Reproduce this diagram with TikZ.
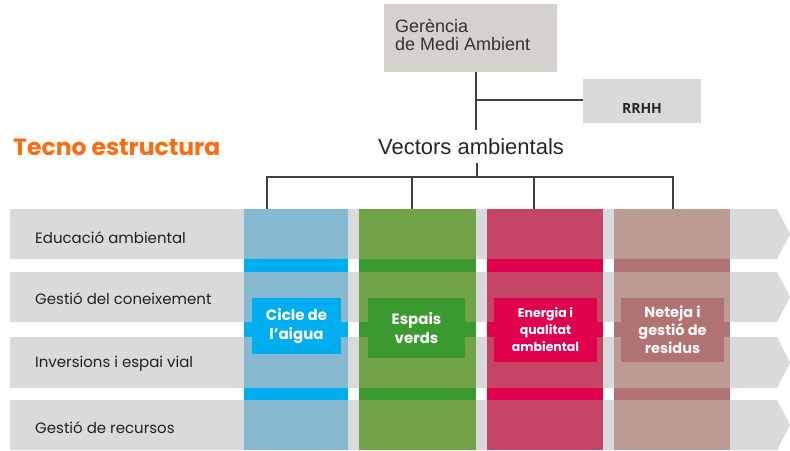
\documentclass[tikz,border=0pt]{standalone}
\usepackage{fontspec}
\setmainfont{Liberation Sans}
\newfontfamily\pop{Poppins}
\newfontfamily\osans{Open Sans}
\definecolor{rowgray}{HTML}{D9DADC}
\definecolor{bluelight}{HTML}{86BAD2}
\definecolor{bluedark}{HTML}{00AEEF}
\definecolor{greenlight}{HTML}{71A449}
\definecolor{greendark}{HTML}{3A9A30}
\definecolor{redlight}{HTML}{C64565}
\definecolor{reddark}{HTML}{E0004D}
\definecolor{brownlight}{HTML}{BC9B92}
\definecolor{browndark}{HTML}{B07272}
\definecolor{gerbox}{HTML}{D5D1CD}
\definecolor{rrhhbox}{HTML}{D9D9D9}
\definecolor{tecno}{HTML}{FF6B0F}
\definecolor{linegray}{HTML}{404040}
\definecolor{txtdark}{HTML}{231F20}
\tikzset{
  conn/.style={draw=linegray,line width=1.2pt},
  rowlabel/.style={anchor=base west,inner sep=0pt,text=txtdark,font=\pop\fontsize{15}{17}\selectfont},
  vlabel/.style={text=white,align=center,inner sep=0pt,font=\pop\bfseries\fontsize{15}{19}\selectfont},
}
\begin{document}
\begin{tikzpicture}[x=1pt,y=-1pt]
\useasboundingbox (0,0) rectangle (790,450);
% rows (chevrons)
\foreach \t/\b in {209/259,272/322,337/388,400/450}{
  \fill[rowgray] (10,\t) -- (777,\t) -- (790,{(\t+\b)/2}) -- (777,\b) -- (10,\b) -- cycle;
}
% columns
\foreach \xa/\xb/\cl/\cd in {244/348/bluelight/bluedark,359/476/greenlight/greendark,487/603/redlight/reddark,614/730/brownlight/browndark}{
  \fill[\cl] (\xa,209) rectangle (\xb,450);
  \fill[\cd] (\xa,259) rectangle (\xb,272);
  \fill[\cd] (\xa,322) rectangle (\xb,337);
  \fill[\cd] (\xa,388) rectangle (\xb,400);
}
% vector label boxes
\fill[bluedark] (252,298) rectangle (341,354);
\fill[greendark] (368,298) rectangle (465,358);
\fill[reddark] (494,298) rectangle (597,362);
\fill[browndark] (621,298) rectangle (724,362);
\node[vlabel] (v1) at (296.5,326) {Cicle de\\l’aigua};
\node[vlabel] (v2) at (416.5,328) {Espais\\verds};
\node[vlabel,font=\pop\bfseries\fontsize{12.5}{17}\selectfont] (v3) at (545.5,330) {Energia i\\qualitat\\ambiental};
\node[vlabel,font=\pop\bfseries\fontsize{14.5}{18}\selectfont,text=white!92!pink] (v4) at (672.5,330) {Neteja i\\gestió de\\residus};
% row labels
\node[rowlabel] (r1) at (35,243) {Educació ambiental};
\node[rowlabel] (r2) at (35,304) {Gestió del coneixement};
\node[rowlabel] (r3) at (35,367) {Inversions i espai vial};
\node[rowlabel] (r4) at (35,433) {Gestió de recursos};
% title
\node[anchor=base west,inner sep=0pt,text=tecno,font=\pop\bfseries\fontsize{23.5}{25}\selectfont] (tec) at (13,155) {Tecno estructura};
% top hierarchy
\node[fill=gerbox,minimum width=173pt,minimum height=68pt,inner sep=0pt] (g) at (470.5,38) {};
\node[anchor=base west,align=left,inner sep=0pt,text=black!80,font=\fontsize{18}{18}\selectfont] (gt) at (395,50) {Gerència\\de Medi Ambient};
\node[fill=rrhhbox,minimum width=118pt,minimum height=44pt,inner sep=0pt] (rr) at (642,101) {};
\node[anchor=base,inner sep=0pt,text=black!85,font=\osans\bfseries\fontsize{14}{16}\selectfont] (rrt) at (642,113) {RRHH};
\node[anchor=base,inner sep=0pt,text=black!85,font=\fontsize{22}{24}\selectfont] (vec) at (471,154) {Vectors ambientals};
\coordinate (j0) at (476,72);
\coordinate (j1) at (476,100);
\coordinate (j2) at (476,130);
\coordinate (k0) at (477,163);
\coordinate (k1) at (477,177);
\coordinate (c1) at (267,209);
\coordinate (c2) at (412,209);
\coordinate (c3) at (534,209);
\coordinate (c4) at (673,209);
\draw[conn] (j0) -- (j2);
\draw[conn] (j1) -- (rr.west |- j1);
\draw[conn] (k0) -- (k1);
\draw[conn] (c1) |- (k1) -| (c4);
\draw[conn] (c2) -- (c2 |- k1);
\draw[conn] (c3) -- (c3 |- k1);
\end{tikzpicture}
\end{document}
